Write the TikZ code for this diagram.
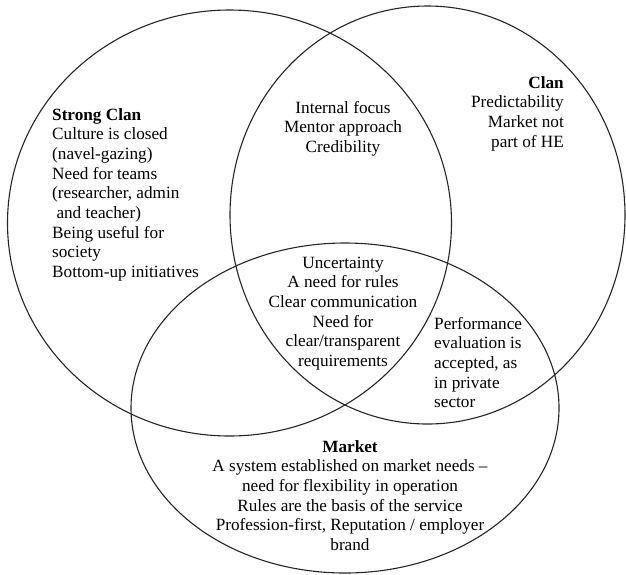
\documentclass[tikz,border=0pt]{standalone}
\usepackage{fontspec}
\setmainfont{Liberation Serif}
\begin{document}
\begin{tikzpicture}[x=1pt,y=-1pt,
  ring/.style={draw=black!85, line width=1.1pt},
  lbl/.style={inner sep=0pt, font=\fontsize{17.2}{19.7}\selectfont}]
\useasboundingbox (0,0) rectangle (626,574);
% circles
\draw[ring] (229.5,223) ellipse [x radius=222pt, y radius=213pt];
\draw[ring] (427.5,215) ellipse [x radius=197.5pt, y radius=209pt];
\draw[ring] (345,408) ellipse [x radius=214pt, y radius=165pt];
% texts
\node[lbl, anchor=base west] (strong) at (52,120) {\begin{tabular}[t]{@{}l@{}}\textbf{Strong Clan}\\Culture is closed\\(navel-gazing)\\Need for teams\\(researcher, admin\\\ and teacher)\\Being useful for\\society\\Bottom-up initiatives\end{tabular}};
\node[lbl, anchor=base] (inner) at (343,113) {\begin{tabular}[t]{@{}c@{}}Internal focus\\Mentor approach\\Credibility\end{tabular}};
\node[lbl, anchor=base east] (clan) at (564,88) {\begin{tabular}[t]{@{}r@{}}\textbf{Clan}\\Predictability\\Market not\\part of HE\end{tabular}};
\node[lbl, anchor=base] (centre) at (343,268) {\begin{tabular}[t]{@{}c@{}}Uncertainty\\A need for rules\\Clear communication\\Need for\\clear/transparent\\requirements\end{tabular}};
\node[lbl, anchor=base west] (perf) at (434,329) {\begin{tabular}[t]{@{}l@{}}Performance\\evaluation is\\accepted, as\\in private\\sector\end{tabular}};
\node[lbl, anchor=base] (market) at (350,452) {\begin{tabular}[t]{@{}c@{}}\textbf{Market}\\A system established on market needs --\\need for flexibility in operation\\Rules are the basis of the service\\Profession-first, Reputation / employer\\brand\end{tabular}};
\end{tikzpicture}
\end{document}
